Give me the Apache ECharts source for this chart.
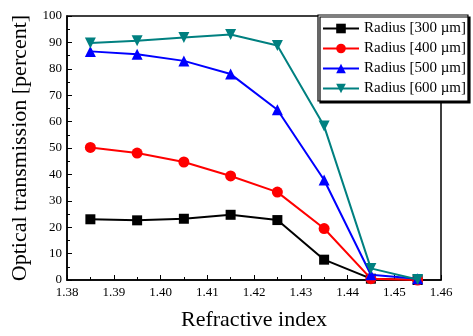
<!DOCTYPE html>
<html><head><meta charset="utf-8">
<script src="https://cdn.jsdelivr.net/npm/echarts@6/dist/echarts.min.js"></script>
<style>html,body{margin:0;padding:0;background:#fff}#c{width:473px;height:336px}</style>
</head><body><div id="c"></div>
<script>
const xValues = [1.385, 1.395, 1.405, 1.415, 1.425, 1.435, 1.445, 1.455];
const r300 = [23.0, 22.6, 23.2, 24.7, 22.7, 7.7, 0.5, 0];
const r400 = [50.2, 48.1, 44.7, 39.4, 33.3, 19.5, 0.5, 0];
const r500 = [86.6, 85.5, 83.0, 78.0, 64.5, 37.9, 2.0, 0.5];
const r600 = [89.8, 90.6, 91.9, 93.0, 88.8, 58.3, 4.4, 0.2];
const seriesNames = ['Radius [300 µm]', 'Radius [400 µm]', 'Radius [500 µm]', 'Radius [600 µm]'];
const colors = ['#000000', '#ff0000', '#0000ff', '#008080'];
const symbols = ['rect', 'circle', 'triangle', 'triangle'];
const rotations = [0, 0, 0, 180];
const allData = [r300, r400, r500, r600];

const font = '"Liberation Serif", "Times New Roman", serif';
const chart = echarts.init(document.getElementById('c'));
chart.setOption({
  animation: false,
  backgroundColor: '#fff',
  textStyle: { fontFamily: font },
  grid: { left: 67, right: 32, top: 16, bottom: 53, show: true, borderColor: '#000', borderWidth: 1.5, containLabel: false },
  legend: {
    orient: 'vertical', left: 318, top: 15, data: seriesNames,
    backgroundColor: '#fff', borderColor: '#000', borderWidth: 1.2, borderRadius: 0,
    shadowColor: '#000', shadowOffsetX: 2, shadowOffsetY: 2, shadowBlur: 0,
    padding: [6, 2, 5, 4], itemGap: 5, itemWidth: 36, itemHeight: 12,
    textStyle: { fontFamily: font, fontSize: 15, color: '#000' }
  },
  xAxis: {
    type: 'value', min: 1.38, max: 1.46, interval: 0.01,
    name: 'Refractive index', nameLocation: 'middle', nameGap: 29,
    nameTextStyle: { fontFamily: font, fontSize: 22, color: '#000' },
    axisLine: { lineStyle: { color: '#000', width: 1.5 } },
    axisTick: { inside: true, length: 5, lineStyle: { color: '#000' } },
    minorTick: { show: true, splitNumber: 2, length: 3, lineStyle: { color: '#000' } },
    axisLabel: { fontFamily: font, fontSize: 13, color: '#000', formatter: v => v.toFixed(2), margin: 6 },
    splitLine: { show: false }
  },
  yAxis: {
    type: 'value', min: 0, max: 100, interval: 10,
    name: 'Optical transmission [percent]', nameLocation: 'middle', nameGap: 35,
    nameTextStyle: { fontFamily: font, fontSize: 22, color: '#000' },
    axisLine: { show: true, lineStyle: { color: '#000', width: 1.5 } },
    axisTick: { inside: true, length: 5, lineStyle: { color: '#000' } },
    minorTick: { show: true, splitNumber: 2, length: 3, lineStyle: { color: '#000' } },
    axisLabel: { fontFamily: font, fontSize: 13, color: '#000', margin: 5 },
    splitLine: { show: false }
  },
  series: seriesNames.map((n, i) => ({
    name: n, type: 'line',
    data: xValues.map((x, j) => [x, allData[i][j]]),
    symbol: symbols[i], symbolRotate: rotations[i],
    symbolSize: i === 0 ? 10 : 11,
    showAllSymbol: true,
    itemStyle: { color: colors[i] },
    lineStyle: { color: colors[i], width: 2 },
    z: 2 + i
  }))
});
</script></body></html>
